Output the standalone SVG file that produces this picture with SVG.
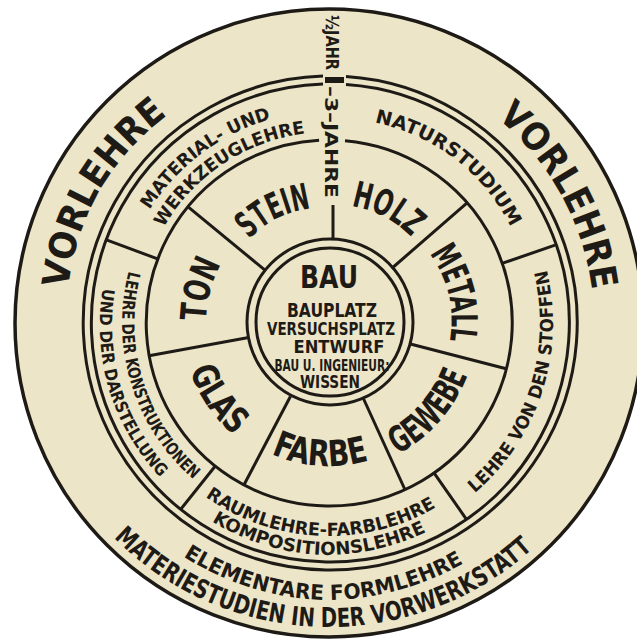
<svg xmlns="http://www.w3.org/2000/svg" width="637" height="641" viewBox="0 0 637 641">
<style>
.t{font-family:"DejaVu Sans Condensed","DejaVu Sans",sans-serif;font-weight:bold;fill:#1e1b16}
.ln{stroke:#1e1b16;fill:none;stroke-width:3}
.dv{stroke:#1e1b16;stroke-width:3;stroke-linecap:butt}
</style>
<defs>
<path id="pVL" d="M558.8,454.9 A265,265 0 0 1 99.2,191.1 A265,265 0 0 1 558.8,454.9"/>
<path id="pVR" d="M97.0,451.1 A265,265 0 0 1 561.0,194.9 A265,265 0 0 1 97.0,451.1"/>
<path id="pEF" d="M335.5,46.1 A277,277 0 0 0 322.5,599.9 A277,277 0 0 0 335.5,46.1"/>
<path id="pMS" d="M337.0,19.1 A304,304 0 0 0 321.0,626.9 A304,304 0 0 0 337.0,19.1"/>
<path id="pMU" d="M456.1,492.7 A212,212 0 0 1 201.9,153.3 A212,212 0 0 1 456.1,492.7"/>
<path id="pWZ" d="M434.8,482.1 A191,191 0 0 1 223.3,163.9 A191,191 0 0 1 434.8,482.1"/>
<path id="pNS" d="M203.0,487.2 A207,207 0 0 1 455.0,158.8 A207,207 0 0 1 203.0,487.2"/>
<path id="pLS" d="M115.7,254.5 A224,224 0 0 0 542.3,391.5 A224,224 0 0 0 115.7,254.5"/>
<path id="pLK" d="M526.7,261.6 A207,207 0 0 0 131.3,384.4 A207,207 0 0 0 526.7,261.6"/>
<path id="pUD" d="M549.1,256.3 A230,230 0 0 0 108.9,389.7 A230,230 0 0 0 549.1,256.3"/>
<path id="pRF" d="M338.8,109.2 A213,213 0 0 0 319.2,535.8 A213,213 0 0 0 338.8,109.2"/>
<path id="pKO" d="M340.3,91.3 A232,232 0 0 0 317.7,554.7 A232,232 0 0 0 340.3,91.3"/>
<path id="pST" d="M380.9,427.8 A117,117 0 0 1 277.1,218.2 A117,117 0 0 1 380.9,427.8"/>
<path id="pHO" d="M274.0,429.6 A120,120 0 0 1 384.0,216.4 A120,120 0 0 1 274.0,429.6"/>
<path id="pME" d="M209.3,351.2 A123,123 0 0 1 448.7,294.8 A123,123 0 0 1 209.3,351.2"/>
<path id="pGE" d="M218.1,224.9 A148,148 0 0 0 439.9,421.1 A148,148 0 0 0 218.1,224.9"/>
<path id="pFA" d="M338.5,180.3 A143,143 0 0 0 319.5,465.7 A143,143 0 0 0 338.5,180.3"/>
<path id="pGL" d="M450.4,240.0 A147,147 0 0 0 207.6,406.0 A147,147 0 0 0 450.4,240.0"/>
<path id="pTO" d="M447.9,354.5 A123,123 0 0 1 210.1,291.5 A123,123 0 0 1 447.9,354.5"/>
</defs>
<rect width="637" height="641" fill="#ffffff"/>
<g id="rings">
<circle cx="329" cy="323" r="314" fill="#ede5c8" stroke="#1e1b16" stroke-width="3.5"/>
<path class="ln" stroke-width="2.6" d="M346,76.5 A247,247 0 1 1 323,76.1"/>
<path class="ln" stroke-width="2.6" d="M346,84.5 A239,239 0 1 1 323,84.1"/>
<rect x="325" y="77" width="19" height="6" fill="#1e1b16"/>
<path class="ln" d="M345.0,140.7 A183,183 0 1 1 319.1,140.3"/>
<circle class="ln" cx="330" cy="322" r="83"/>
<circle class="ln" cx="330" cy="322" r="74"/>
</g>
<g id="connectors">
<line class="dv" x1="333" y1="205" x2="333" y2="240"/>
<line class="dv" x1="391.6" y1="268.5" x2="467.1" y2="202.9"/>
<line class="dv" x1="409.4" y1="343.8" x2="506.2" y2="368.8"/>
<line class="dv" x1="363.4" y1="398.5" x2="404.9" y2="489.5"/>
<line class="dv" x1="290.4" y1="396.5" x2="243.9" y2="485.0"/>
<line class="dv" x1="247.3" y1="337.8" x2="149.0" y2="355.7"/>
<line class="dv" x1="265.0" y1="270.2" x2="187.8" y2="206.6"/>
<line class="dv" x1="502.0" y1="263.4" x2="555.0" y2="245.2"/>
<line class="dv" x1="434.0" y1="472.9" x2="466.1" y2="518.8"/>
<line class="dv" x1="215.1" y1="466.2" x2="180.2" y2="510.0"/>
<line class="dv" x1="157.6" y1="258.9" x2="105.1" y2="239.3"/>
</g>
<g id="vorlehre-left"><text class="t" font-size="37" text-anchor="middle"><textPath href="#pVL" startOffset="50%" textLength="206" lengthAdjust="spacingAndGlyphs">VORLEHRE</textPath></text></g>
<g id="vorlehre-right"><text class="t" font-size="37" text-anchor="middle"><textPath href="#pVR" startOffset="50%" textLength="202" lengthAdjust="spacingAndGlyphs">VORLEHRE</textPath></text></g>
<g id="elementare">
<text class="t" font-size="21" text-anchor="middle"><textPath href="#pEF" startOffset="50%" textLength="295" lengthAdjust="spacingAndGlyphs">ELEMENTARE FORMLEHRE</textPath></text>
<text class="t" font-size="26" text-anchor="middle"><textPath href="#pMS" startOffset="50%" textLength="462" lengthAdjust="spacingAndGlyphs">MATERIESTUDIEN IN DER VORWERKSTATT</textPath></text>
</g>
<g id="jahre">
<text class="t" font-size="18" transform="translate(326,15) rotate(90)" textLength="55" lengthAdjust="spacingAndGlyphs">½JAHR</text>
<text class="t" font-size="18" transform="translate(325,86) rotate(90)" textLength="112" lengthAdjust="spacingAndGlyphs">–3–JAHRE</text>
</g>
<g id="material">
<text class="t" font-size="18" text-anchor="middle"><textPath href="#pMU" startOffset="50%" textLength="155" lengthAdjust="spacingAndGlyphs">MATERIAL- UND</textPath></text>
<text class="t" font-size="18" text-anchor="middle"><textPath href="#pWZ" startOffset="50%" textLength="176" lengthAdjust="spacingAndGlyphs">WERKZEUGLEHRE</textPath></text>
</g>
<g id="naturstudium"><text class="t" font-size="19" text-anchor="middle"><textPath href="#pNS" startOffset="50%" textLength="178" lengthAdjust="spacingAndGlyphs">NATURSTUDIUM</textPath></text></g>
<g id="stoffen"><text class="t" font-size="18" text-anchor="middle"><textPath href="#pLS" startOffset="50%" textLength="247" lengthAdjust="spacingAndGlyphs">LEHRE VON DEN STOFFEN</textPath></text></g>
<g id="konstruktionen">
<text class="t" font-size="17" text-anchor="middle"><textPath href="#pLK" startOffset="50%" textLength="230" lengthAdjust="spacingAndGlyphs">LEHRE DER KONSTRUKTIONEN</textPath></text>
<text class="t" font-size="17" text-anchor="middle"><textPath href="#pUD" startOffset="50%" textLength="205" lengthAdjust="spacingAndGlyphs">UND DER DARSTELLUNG</textPath></text>
</g>
<g id="raumlehre">
<text class="t" font-size="18" text-anchor="middle"><textPath href="#pRF" startOffset="50%" textLength="244" lengthAdjust="spacingAndGlyphs">RAUMLEHRE-FARBLEHRE</textPath></text>
<text class="t" font-size="18" text-anchor="middle"><textPath href="#pKO" startOffset="50%" textLength="224" lengthAdjust="spacingAndGlyphs">KOMPOSITIONSLEHRE</textPath></text>
</g>
<g id="stein"><text class="t" font-size="36" text-anchor="middle"><textPath href="#pST" startOffset="50%" textLength="71" lengthAdjust="spacingAndGlyphs">STEIN</textPath></text></g>
<g id="holz"><text class="t" font-size="36" text-anchor="middle"><textPath href="#pHO" startOffset="50%" textLength="69" lengthAdjust="spacingAndGlyphs">HOLZ</textPath></text></g>
<g id="metall"><text class="t" font-size="36" text-anchor="middle"><textPath href="#pME" startOffset="50%" textLength="92" lengthAdjust="spacingAndGlyphs">METALL</textPath></text></g>
<g id="gewebe"><text class="t" font-size="36" text-anchor="middle"><textPath href="#pGE" startOffset="50%" textLength="108" lengthAdjust="spacingAndGlyphs">GEWEBE</textPath></text></g>
<g id="farbe"><text class="t" font-size="36" text-anchor="middle"><textPath href="#pFA" startOffset="50%" textLength="100" lengthAdjust="spacingAndGlyphs">FARBE</textPath></text></g>
<g id="glas"><text class="t" font-size="36" text-anchor="middle"><textPath href="#pGL" startOffset="50%" textLength="80" lengthAdjust="spacingAndGlyphs">GLAS</textPath></text></g>
<g id="ton"><text class="t" font-size="36" text-anchor="middle"><textPath href="#pTO" startOffset="50%" textLength="60" lengthAdjust="spacingAndGlyphs">TON</textPath></text></g>
<g id="bau" text-anchor="middle">
<text class="t" font-size="32" x="329" y="288" textLength="58" lengthAdjust="spacingAndGlyphs">BAU</text>
<text class="t" font-size="19" x="332" y="317" textLength="90" lengthAdjust="spacingAndGlyphs">BAUPLATZ</text>
<text class="t" font-size="18" x="331" y="335" textLength="128" lengthAdjust="spacingAndGlyphs">VERSUCHSPLATZ</text>
<text class="t" font-size="18" x="339" y="353" textLength="91" lengthAdjust="spacingAndGlyphs">ENTWURF</text>
<text class="t" font-size="16" x="332" y="371" textLength="115" lengthAdjust="spacingAndGlyphs">BAU U. INGENIEUR:</text>
<text class="t" font-size="18" x="330" y="388" textLength="60" lengthAdjust="spacingAndGlyphs">WISSEN</text>
</g>
</svg>
